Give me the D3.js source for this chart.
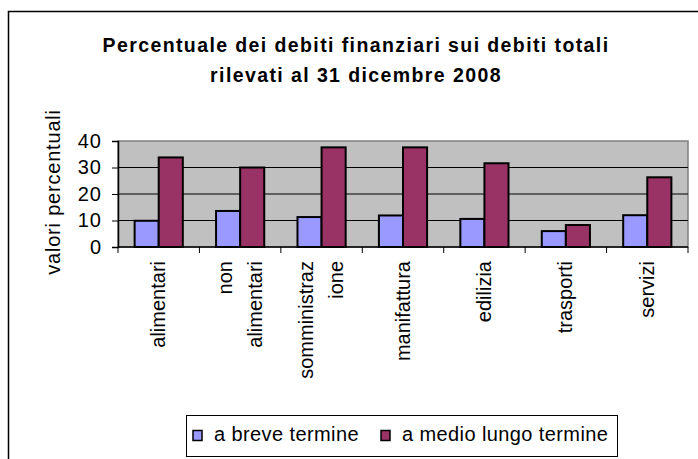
<!DOCTYPE html>
<html>
<head>
<meta charset="utf-8">
<script src="https://cdn.jsdelivr.net/npm/d3@7"></script>
<style>
  body { margin: 0; background: #fff; }
  text { font-family: "Liberation Sans", Arial, sans-serif; fill: #000; }
</style>
</head>
<body>
<div id="chart"></div>
<script>
  // data
  const categories = ["alimentari", "non alimentari", "somministrazione", "manifattura", "edilizia", "trasporti", "servizi"];
  const catLines = [["alimentari"], ["non", "alimentari"], ["somministraz", "ione"], ["manifattura"], ["edilizia"], ["trasporti"], ["servizi"]];
  const breve = [9.9, 13.6, 11.3, 11.9, 10.6, 6.0, 12.0];
  const medioLungo = [33.8, 30.0, 37.6, 37.6, 31.6, 8.3, 26.3];
  const seriesNames = ["a breve termine", "a medio lungo termine"];
  const seriesColors = ["#9999FF", "#993366"];
  const yTicks = [0, 10, 20, 30, 40];

  const svgWidth = 698;
  const svgHeight = 459;

  const plot = { left: 118, top: 141, right: 688, bottom: 247 };

  const svg = d3.select("#chart")
    .append("svg")
    .attr("width", svgWidth)
    .attr("height", svgHeight);

  // outer chart frame
  svg.append("rect")
    .attr("x", 8.5).attr("y", 11.5)
    .attr("width", 700).attr("height", 460)
    .attr("fill", "none")
    .attr("stroke", "#000")
    .attr("stroke-width", 1.5);

  // title
  const title = svg.append("text")
    .attr("text-anchor", "middle")
    .style("font-weight", "bold")
    .style("font-size", "19.5px")
    .style("letter-spacing", "1.4px");
  title.append("tspan").attr("x", 356).attr("y", 52).text("Percentuale dei debiti finanziari sui debiti totali");
  title.append("tspan").attr("x", 356).attr("y", 82).text("rilevati al 31 dicembre 2008");

  const x0 = d3.scaleBand()
    .domain(categories)
    .range([plot.left, plot.right]);

  const x1 = d3.scaleBand()
    .domain(seriesNames)
    .range([0, x0.bandwidth()])
    .paddingOuter(0.69)
    .paddingInner(0);

  const y = d3.scaleLinear()
    .domain([0, 40])
    .range([plot.bottom, plot.top]);

  // plot area
  svg.append("rect")
    .attr("x", plot.left).attr("y", plot.top)
    .attr("width", plot.right - plot.left)
    .attr("height", plot.bottom - plot.top)
    .attr("fill", "#C0C0C0")
    .attr("stroke", "#808080")
    .attr("stroke-width", 1.5);

  // gridlines
  svg.append("g")
    .selectAll("line")
    .data(yTicks.filter(d => d > 0 && d < 40))
    .enter()
    .append("line")
    .attr("x1", plot.left).attr("x2", plot.right)
    .attr("y1", d => y(d)).attr("y2", d => y(d))
    .attr("stroke", "#000")
    .attr("stroke-width", 1);

  // bars
  const rows = categories.map((c, i) => ({ cat: c, vals: [breve[i], medioLungo[i]] }));
  const groups = svg.append("g")
    .selectAll("g")
    .data(rows)
    .enter()
    .append("g")
    .attr("transform", d => `translate(${x0(d.cat)},0)`);

  groups.selectAll("rect")
    .data(d => d.vals.map((v, j) => ({ key: seriesNames[j], value: v, j: j })))
    .enter()
    .append("rect")
    .attr("x", d => x1(d.key))
    .attr("y", d => y(d.value))
    .attr("width", x1.bandwidth())
    .attr("height", d => y(0) - y(d.value))
    .attr("fill", d => seriesColors[d.j])
    .attr("stroke", "#000")
    .attr("stroke-width", 2);

  // y axis
  const leftAxis = d3.axisLeft(y).tickValues(yTicks).tickSize(6).tickPadding(10);
  const yAxis = svg.append("g")
    .attr("transform", `translate(${plot.left},0)`)
    .call(leftAxis);
  yAxis.select(".domain").attr("stroke", "#000").attr("stroke-width", 1.5);
  yAxis.selectAll("text").style("font-size", "20px").style("letter-spacing", "1px").attr("fill", "#000")
    .style("font-family", "'Liberation Sans', Arial, sans-serif");

  // x axis
  const xTickPos = categories.map(c => x0(c)).concat([plot.right]);
  svg.append("line")
    .attr("x1", plot.left).attr("x2", plot.right)
    .attr("y1", plot.bottom).attr("y2", plot.bottom)
    .attr("stroke", "#000").attr("stroke-width", 1.5);
  svg.append("g")
    .selectAll("line")
    .data(xTickPos)
    .enter()
    .append("line")
    .attr("x1", d => d).attr("x2", d => d)
    .attr("y1", plot.bottom).attr("y2", plot.bottom + 6)
    .attr("stroke", "#000");

  // category labels, rotated
  const labels = svg.append("g")
    .selectAll("text")
    .data(categories)
    .enter()
    .append("text")
    .attr("transform", d => `translate(${x0(d) + x0.bandwidth() / 2},261) rotate(-90)`)
    .attr("text-anchor", "end")
    .style("font-size", "20px");
  labels.each(function(d, i) {
    const lines = catLines[i];
    const n = lines.length;
    d3.select(this).selectAll("tspan")
      .data(lines)
      .enter()
      .append("tspan")
      .attr("x", 0)
      .attr("y", (l, k) => (k - (n - 1) / 2) * 30 + 6.5)
      .text(l => l);
  });

  // y axis title
  svg.append("text")
    .attr("transform", "translate(60,192) rotate(-90)")
    .attr("text-anchor", "middle")
    .style("font-size", "20px")
    .style("letter-spacing", "0.8px")
    .text("valori percentuali");

  // legend
  svg.append("rect")
    .attr("x", 186.5).attr("y", 415.5)
    .attr("width", 431).attr("height", 41)
    .attr("fill", "#fff")
    .attr("stroke", "#000");
  const legendX = [193, 381];
  seriesNames.forEach(function(name, i) {
    svg.append("rect")
      .attr("x", legendX[i]).attr("y", 430.5)
      .attr("width", 9).attr("height", 10)
      .attr("fill", seriesColors[i])
      .attr("stroke", "#000")
      .attr("stroke-width", 1.5);
    svg.append("text")
      .attr("x", legendX[i] + 21).attr("y", 441)
      .style("font-size", "20px")
      .style("letter-spacing", "0.4px")
      .text(name);
  });
</script>
</body>
</html>
